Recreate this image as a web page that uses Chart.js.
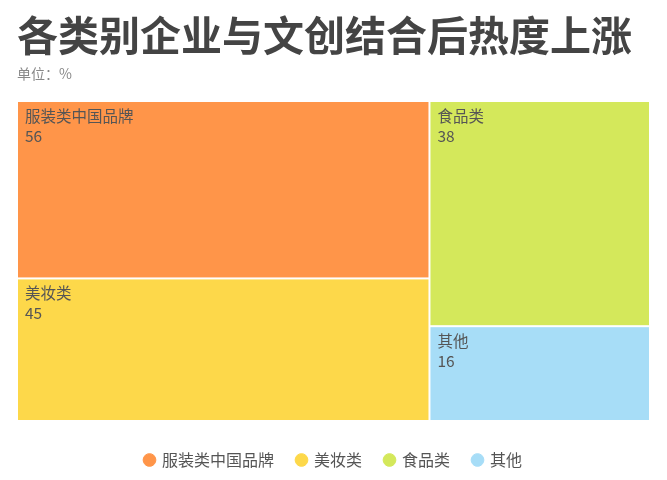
<!DOCTYPE html>
<html>
<head>
<meta charset="utf-8">
<script src="https://cdn.jsdelivr.net/npm/chart.js@4.4.1/dist/chart.umd.min.js"></script>
<style>
  html, body { margin: 0; padding: 0; background: #fff; }
  #wrap { width: 667px; height: 480px; }
</style>
</head>
<body>
<div id="wrap"><canvas id="treeChart"></canvas></div>
<script>
const categories = ['服装类中国品牌', '美妆类', '食品类', '其他'];
const values = [56, 45, 38, 16];
const colors = ['#FF9549', '#FDD84A', '#D4E85B', '#A7DDF7'];

const FONT = '"Noto Sans CJK SC", "Noto Sans", sans-serif';
const GOLDEN = (1 + Math.sqrt(5)) / 2;

// squarified layout, row/column with a golden target ratio
function worst(row, area, fixed, ratio) {
    let mx = 0, mn = Infinity;
    row.forEach(r => { mx = Math.max(mx, r.area); mn = Math.min(mn, r.area); });
    const sq = area * area, f = fixed * fixed * ratio;
    return Math.max(f * mx / sq, sq / (f * mn));
}

function layoutRow(row, area, rect, out) {
    if (rect.w >= rect.h) {
        const cw = area / rect.h;
        let y = rect.y;
        row.forEach(r => { const hh = r.area / cw; out[r.i] = { x: rect.x, y: y, w: cw, h: hh }; y += hh; });
        return { x: rect.x + cw, y: rect.y, w: rect.w - cw, h: rect.h };
    }
    const rh = area / rect.w;
    let x = rect.x;
    row.forEach(r => { const ww = r.area / rh; out[r.i] = { x: x, y: rect.y, w: ww, h: rh }; x += ww; });
    return { x: rect.x, y: rect.y + rh, w: rect.w, h: rect.h - rh };
}

function squarify(vals, w, h) {
    const total = vals.reduce((a, b) => a + b, 0);
    const items = vals.map((v, i) => ({ i: i, area: v * w * h / total }))
        .sort((a, b) => b.area - a.area);
    const out = [];
    let rect = { x: 0, y: 0, w: w, h: h };
    let row = [], rowArea = 0, best = Infinity, k = 0;
    while (k < items.length) {
        const fixed = Math.min(rect.w, rect.h);
        const cand = row.concat(items[k]);
        const s = worst(cand, rowArea + items[k].area, fixed, GOLDEN);
        if (s <= best) {
            row = cand; rowArea += items[k].area; best = s; k++;
        } else {
            rect = layoutRow(row, rowArea, rect, out);
            row = []; rowArea = 0; best = Infinity;
        }
    }
    if (row.length) layoutRow(row, rowArea, rect, out);
    return out;
}

const treemapPlugin = {
    id: 'treemap',
    afterDatasetsDraw(chart) {
        const xs = chart.scales.x, ys = chart.scales.y;
        const W = Math.abs(xs.getPixelForValue(1) - xs.getPixelForValue(0));
        const H = Math.abs(ys.getPixelForValue(1) - ys.getPixelForValue(0));
        const rects = squarify(values, W, H);
        const ctx = chart.ctx;
        ctx.save();
        rects.forEach((r, i) => {
            const x0 = xs.getPixelForValue(r.x / W);
            const x1 = xs.getPixelForValue((r.x + r.w) / W);
            const y0 = ys.getPixelForValue(r.y / H);
            const y1 = ys.getPixelForValue((r.y + r.h) / H);
            ctx.fillStyle = colors[i];
            ctx.fillRect(x0 + 1, y0 + 1, x1 - x0 - 2, y1 - y0 - 2);
            ctx.fillStyle = '#555';
            ctx.font = '15.5px ' + FONT;
            ctx.textBaseline = 'top';
            ctx.textAlign = 'left';
            ctx.fillText(categories[i], x0 + 8, y0 + 7);
            ctx.fillText(String(values[i]), x0 + 8, y0 + 27);
        });
        ctx.restore();
    }
};

const ctx = document.getElementById('treeChart').getContext('2d');
new Chart(ctx, {
    type: 'scatter',
    data: {
        datasets: categories.map((c, i) => ({
            label: c,
            data: [],
            backgroundColor: colors[i],
            borderColor: colors[i],
            pointStyle: 'circle'
        }))
    },
    options: {
        responsive: true,
        maintainAspectRatio: false,
        animation: false,
        layout: { padding: { left: 17, right: 17, top: 11, bottom: 2 } },
        scales: {
            x: { display: false, min: 0, max: 1 },
            y: { display: false, min: 0, max: 1, reverse: true }
        },
        plugins: {
            title: {
                display: true,
                text: '各类别企业与文创结合后热度上涨',
                align: 'start',
                color: '#444',
                font: { family: FONT, size: 41, weight: 'bold' },
                padding: { top: 0, bottom: 5 }
            },
            subtitle: {
                display: true,
                text: '单位：%',
                align: 'start',
                color: '#888',
                font: { family: FONT, size: 14 },
                padding: { top: 0, bottom: 19 }
            },
            legend: {
                display: true,
                position: 'bottom',
                title: {
                    display: true,
                    text: ' ',
                    font: { size: 5 },
                    padding: { top: 0, bottom: 2 }
                },
                labels: {
                    usePointStyle: true,
                    boxWidth: 9,
                    boxHeight: 9,
                    padding: 23,
                    color: '#555',
                    font: { family: FONT, size: 16 }
                }
            },
            tooltip: { enabled: false }
        }
    },
    plugins: [treemapPlugin]
});
</script>
</body>
</html>
